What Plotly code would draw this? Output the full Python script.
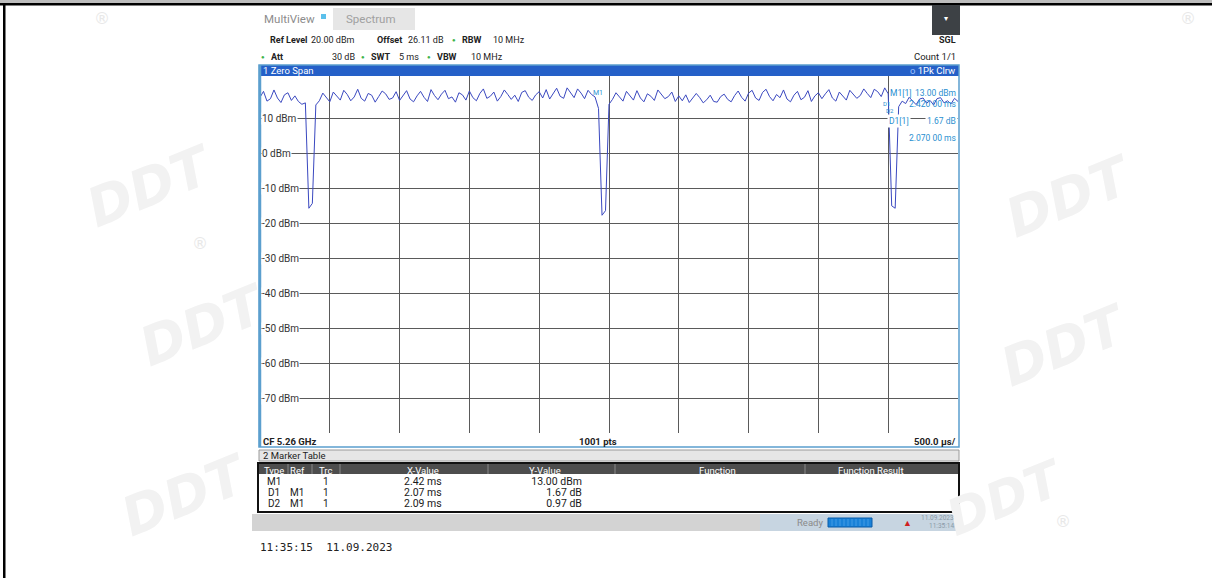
import plotly.graph_objects as go

W, H = 1212, 578

# ---------------- data ----------------
SWEEP_STEP_MS = 0.025
level_dbm = [
    16.2, 17.9, 15.1, 15.8, 18.3, 16.0, 14.7, 16.9, 17.5, 15.3, 16.6, 15.0, 14.2, 14.6,
    -15.6, -14.2,
    14.0, 15.2, 17.4, 16.1,
    14.9, 17.7, 16.5, 15.4, 18.2, 17.0, 15.2, 16.3, 18.5, 15.9, 15.1, 17.3, 16.8, 14.8, 16.4, 18.0, 17.2, 15.6, 16.0, 17.8,
    15.3, 16.9, 18.1, 15.7, 14.9, 16.6, 17.9, 16.2, 15.0, 18.4, 16.7, 15.5, 17.1, 18.2, 15.8, 16.3, 14.8, 17.5, 16.9, 15.4,
    18.0, 16.1, 15.2, 17.3, 18.6, 15.9, 16.5, 17.7, 15.1, 16.4, 18.3, 17.0, 15.6, 16.8, 15.0, 17.6, 18.1, 16.2, 15.3, 16.9,
    17.8, 16.0, 18.4, 15.7, 17.1, 18.8, 16.5, 15.9, 18.9, 17.3, 16.1, 18.6, 17.4, 15.8, 18.2, 17.0, 16.3, 13.0,
    -17.6, -16.3,
    14.2, 15.6, 17.5, 16.3, 15.1, 17.9, 16.8, 15.4, 18.1, 16.0, 14.9, 17.2, 16.5, 15.3, 18.3, 17.1, 15.8, 16.4, 17.7, 15.0, 16.6,
    15.2, 16.9, 14.7, 15.9, 17.3, 16.1, 14.6, 15.5, 16.8, 15.0, 14.8, 16.4, 17.1, 15.6, 14.9, 16.7, 18.0, 16.2, 15.1, 17.4,
    18.2, 16.0, 15.3, 17.6, 18.5, 16.4, 15.2, 17.0, 16.1, 18.3, 15.7, 14.9, 16.8, 17.9, 15.5, 16.2, 18.1, 15.0, 16.6, 17.5,
    15.8, 17.2, 18.4, 16.0, 15.1, 17.7, 16.5, 15.4, 18.2, 17.0, 15.9, 16.7, 18.6, 17.3, 16.1, 18.5, 17.8, 16.4, 18.9, 17.2,
    -14.9, -15.6,
    13.5, 15.1, 14.4, 16.2, 15.0, 14.1, 15.7, 16.0, 14.5, 15.3, 14.0, 15.8, 16.1, 14.6, 15.2, 14.3, 15.9, 15.0,
]
time_ms = [round(i * SWEEP_STEP_MS, 4) for i in range(len(level_dbm))]

x_range_ms = [0, 5]
y_range_dbm = [-80, 22.3]
x_grid_ms = [0.5, 1.0, 1.5, 2.0, 2.5, 3.0, 3.5, 4.0, 4.5]
y_tick_vals = [10, 0, -10, -20, -30, -40, -50, -60, -70]
y_tick_text = ["10 dBm", "0 dBm", "-10 dBm", "-20 dBm", "-30 dBm",
               "-40 dBm", "-50 dBm", "-60 dBm", "-70 dBm"]

marker_m1_ms = 2.42
marker_d1_ms = 2.42 + 2.07
marker_d2_ms = 2.42 + 2.09

table_headers = ["Type", "Ref", "Trc", "X-Value", "Y-Value", "Function", "Function Result"]
table_type = ["M1", "D1", "D2"]
table_ref = ["", "M1", "M1"]
table_trc = ["1", "1", "1"]
table_x = ["2.42 ms", "2.07 ms", "2.09 ms"]
table_y = ["13.00 dBm", "1.67 dB", "0.97 dB"]

# ---------------- helpers (pixel -> paper) ----------------
def px(x):
    return x / W


def py(y):
    return 1 - y / H


shapes = []
annotations = []


def rect(x0, y0, x1, y1, fill="rgba(0,0,0,0)", line_color=None, line_width=0, layer="above"):
    shapes.append(dict(type="rect", xref="paper", yref="paper",
                       x0=px(x0), x1=px(x1), y0=py(y1), y1=py(y0),
                       fillcolor=fill,
                       line=dict(color=line_color or "rgba(0,0,0,0)", width=line_width),
                       layer=layer))


def line(x0, y0, x1, y1, color, width=1, layer="above"):
    shapes.append(dict(type="line", xref="paper", yref="paper",
                       x0=px(x0), x1=px(x1), y0=py(y0), y1=py(y1),
                       line=dict(color=color, width=width), layer=layer))


FONT = "Roboto, sans-serif"


def text(x, y, s, size=9.5, color="#222", anchor="left", bold=False, family=FONT,
         vanchor="middle", bg=None):
    if bold:
        s = "<b>" + s + "</b>"
    a = dict(xref="paper", yref="paper", x=px(x), y=py(y), text=s, showarrow=False,
             xanchor=anchor, yanchor=vanchor, font=dict(size=size, color=color, family=family))
    if bg:
        a["bgcolor"] = bg
    annotations.append(a)


# ---------------- outer frame ----------------
rect(0, 0, W, 3, fill="#bdbdbd")
rect(0, 3, W, 5.5, fill="#000")
rect(3, 3, 5.5, H, fill="#000")

# ---------------- watermarks (faint, outside the analyzer area) ----------------
WM = "#f2f2f2"
for (wx, wy, sz) in [(75, 130, 54), (1145, 140, 54), (128, 325, 54), (1140, 345, 54),
                     (110, 552, 54), (1075, 550, 50)]:
    annotations.append(dict(xref="paper", yref="paper", x=px(wx), y=py(wy), text="<b><i>DDT</i></b>",
                            showarrow=False, textangle=-22,
                            font=dict(size=sz, color=WM, family="DejaVu Sans")))
for (rx, ry) in [(102, 18), (200, 243), (1063, 521), (1188, 18)]:
    text(rx, ry, "®", size=16, color="#e8e8e8", anchor="center", family="DejaVu Sans")

# ---------------- analyzer header ----------------
text(262, 19, "MultiView", size=11.5, color="#8c8c8c")
rect(321, 14, 326, 19, fill="#5bc0eb")
rect(333, 8, 415, 30, fill="#e6e6e6")
text(344, 19, "Spectrum", size=11.5, color="#a0a0a0")
rect(932, 5, 960, 35, fill="#3d4145")
text(946, 19, "▾", size=8, color="#ffffff", anchor="center")

text(268, 40, "Ref Level", size=9, bold=True)
text(309, 40, "20.00 dBm", size=9)
text(375, 40, "Offset", size=9, bold=True)
text(406, 40, "26.11 dB", size=9)
text(454, 40, "●", size=6, color="#3cb44b", anchor="center")
text(460, 40, "RBW", size=9, bold=True)
text(491, 40, "10 MHz", size=9)
text(958, 40, "SGL", size=9, bold=True, anchor="right")

text(263, 57, "●", size=6, color="#3cb44b", anchor="center")
text(269, 57, "Att", size=9, bold=True)
text(357, 57, "30 dB", size=9, anchor="right")
text(363, 57, "●", size=6, color="#3cb44b", anchor="center")
text(369, 57, "SWT", size=9, bold=True)
text(421, 57, "5 ms", size=9, anchor="right")
text(429, 57, "●", size=6, color="#3cb44b", anchor="center")
text(435, 57, "VBW", size=9, bold=True)
text(469, 57, "10 MHz", size=9)
text(958, 57, "Count 1/1", size=9.5, anchor="right")

# blue title bar of window 1
rect(259, 65, 959, 76, fill="#2560c8")
text(261, 70.5, "1 Zero Span", size=9.5, color="#ffffff")
text(957, 70.5, "<span style='color:#9ec3ff'>o</span> 1Pk Clrw", size=9.5, color="#ffffff", anchor="right")

# diagram frame
rect(259, 65, 959, 447, line_color="#5b9fce", line_width=1.5)
line(260, 65, 260, 447, "#5b9fce", 2.5)

# bottom row of the diagram
text(261, 441, "CF 5.26 GHz", size=9.5, bold=True)
text(598, 441, "1001 pts", size=9.5, bold=True, anchor="center")
text(958, 441, "500.0 µs/", size=9.5, bold=True, anchor="right")

# marker readout in diagram
MC = "#2a8fd0"
text(888, 93, "M1[1]", size=8.5, color=MC)
text(958, 93, "13.00 dBm", size=8.5, color=MC, anchor="right")
text(958, 104, "2.420 00 ms", size=8.5, color=MC, anchor="right")
text(887, 121, "D1[1]", size=8.5, color=MC, bg="#ffffff")
text(958, 121, "1.67 dB", size=8.5, color=MC, anchor="right", bg="#ffffff")
text(958, 138, "2.070 00 ms", size=8.5, color=MC, anchor="right", bg="#ffffff")

# ---------------- marker table ----------------
rect(259, 450, 959, 461, fill="#e6e6e6", line_color="#9a9a9a", line_width=1)
text(261, 455.5, "2 Marker Table", size=9.5)
rect(258, 463, 959, 512, fill="#ffffff", line_color="#111", line_width=2)
rect(259, 464, 958, 474, fill="#4d4d4d")
col_edges = [259, 288, 312, 340, 488, 615, 805, 958]
for xe in col_edges[1:-1]:
    line(xe, 464, xe, 474, "#8a8a8a", 1)


def hdr(s):
    return "<span style='color:#ffffff;font-size:9.5px'>" + s + "</span>"


def cell(s, sz=10.5):
    return "<span style='font-size:" + str(sz) + "px'>" + s + "</span>"


columns = [
    (274, "center", hdr(table_headers[0]), [cell(v, 10) for v in table_type]),
    (297, "center", hdr(table_headers[1]), [cell(v if v else "&nbsp;", 10) for v in table_ref]),
    (325, "center", hdr(table_headers[2]), [cell(v, 10) for v in table_trc]),
    (423, "center", hdr(table_headers[3]), [cell(v) for v in table_x]),
    (583, "right", hdr(table_headers[4] + "&nbsp;&nbsp;&nbsp;&nbsp;&nbsp;&nbsp;&nbsp;&nbsp;&nbsp;"),
     [cell(v) for v in table_y]),
    (717, "center", hdr(table_headers[5]), ["&nbsp;"] * 3),
    (871, "center", hdr(table_headers[6]), ["&nbsp;"] * 3),
]
for cx, anc, h, vals in columns:
    annotations.append(dict(xref="paper", yref="paper", x=px(cx), y=py(463.5), showarrow=False,
                            text="<br>".join([h] + list(vals)), xanchor=anc, yanchor="top",
                            align=anc, borderpad=0,
                            font=dict(size=8.5, color="#1a1a1a", family=FONT)))

# status bar
rect(252, 514, 760, 531, fill="#d3d3d3")
rect(760, 514, 958, 531, fill="#c7d5e1")
text(795, 522.5, "Ready", size=9.5, color="#8a8a8a")
rect(828, 518, 872, 527, fill="#1a82d8", line_color="#0b5ca8", line_width=1)
for sx in range(832, 872, 4):
    line(sx, 519, sx, 526, "#5fb0f0", 0.6)
text(907, 522.5, "▲", size=9, color="#d02020", anchor="center")
text(956, 518, "11.09.2023", size=6.5, color="#8a9aa8", anchor="right")
text(956, 526, "11:35:14", size=6.5, color="#8a9aa8", anchor="right")

text(258, 547, "11:35:15  11.09.2023", size=11, color="#222",
     family="DejaVu Sans Mono, Liberation Mono, monospace")

# ---------------- y tick labels via the y scale ----------------
for v, lab in zip(y_tick_vals, y_tick_text):
    annotations.append(dict(xref="x", yref="y", x=x_range_ms[0], y=v, text=lab, showarrow=False,
                            xanchor="left", yanchor="middle", xshift=1, bgcolor="#ffffff",
                            borderpad=0, font=dict(size=10, color="#333", family=FONT)))

# marker labels on trace
annotations.append(dict(xref="x", yref="y", x=marker_m1_ms, y=17.5, text="M1", showarrow=False,
                        font=dict(size=7, color=MC, family=FONT)))
annotations.append(dict(xref="x", yref="y", x=marker_d1_ms, y=14.5, text="D1", showarrow=False,
                        font=dict(size=6, color=MC, family=FONT)))
annotations.append(dict(xref="x", yref="y", x=marker_d2_ms, y=12.5, text="D2", showarrow=False,
                        font=dict(size=6, color=MC, family=FONT)))

fig = go.Figure()
fig.add_trace(go.Scatter(x=time_ms, y=level_dbm, mode="lines",
                         line=dict(color="#3a48c0", width=1), hoverinfo="skip", showlegend=False))

fig.update_layout(
    width=W, height=H, autosize=False,
    margin=dict(l=0, r=0, t=0, b=0, pad=0),
    paper_bgcolor="#ffffff", plot_bgcolor="#ffffff",
    showlegend=False,
    xaxis=dict(domain=[px(260), px(958)], range=x_range_ms, tickvals=x_grid_ms,
               showticklabels=False, ticks="", showgrid=True, gridcolor="#5a5a5a", gridwidth=1,
               zeroline=False, showline=False, fixedrange=True),
    yaxis=dict(domain=[py(433), py(76)], range=y_range_dbm, tickvals=y_tick_vals,
               showticklabels=False, ticks="", showgrid=True, gridcolor="#5a5a5a", gridwidth=1,
               zeroline=False, showline=False, fixedrange=True),
    shapes=shapes,
    annotations=annotations,
)

fig.write_html("out.html", include_plotlyjs=True, config={"displayModeBar": False},
               post_script="document.body.style.margin='0';document.body.style.overflow='hidden';")
